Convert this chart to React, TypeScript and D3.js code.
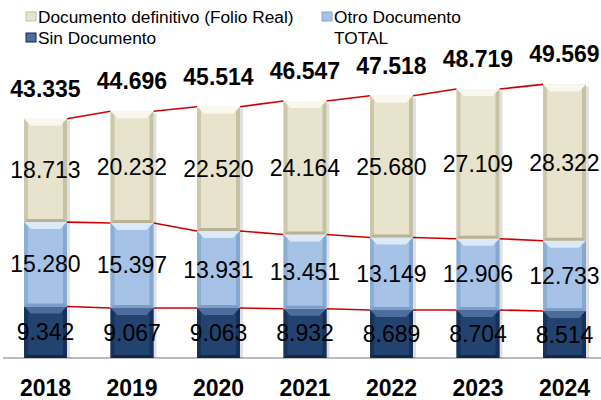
import React from "react";
import * as d3 from "d3";

const years = ["2018", "2019", "2020", "2021", "2022", "2023", "2024"];
const sinDocumento = [9342, 9067, 9063, 8932, 8689, 8704, 8514];
const otroDocumento = [15280, 15397, 13931, 13451, 13149, 12906, 12733];
const folioReal = [18713, 20232, 22520, 24164, 25680, 27109, 28322];
const totals = [43335, 44696, 45514, 46547, 47518, 48719, 49569];

const fmt = (v: number) => d3.format(",")(v).replace(/,/g, ".");

const series = [
  { name: "Sin Documento", values: sinDocumento, main: "#22436f", top: "#4a6d9c", side: "#163058", bottom: "#10264a" },
  { name: "Otro Documento", values: otroDocumento, main: "#a6c3e7", top: "#dbe9f8", side: "#86a7d0", bottom: "#7d9dc6" },
  { name: "Documento definitivo (Folio Real)", values: folioReal, main: "#e7e3cd", top: "#f9f7ee", side: "#c7c1a4", bottom: "#b9b294" },
];

const W = 601;
const H = 400;
const font = "Liberation Sans, Arial, sans-serif";

const App = () => {
  const x = d3.scalePoint<string>().domain(years).range([45.5, 564.5]);
  const y = d3.scaleLinear().domain([0, 50000]).range([358, 82]);
  const bw = 43;
  const bev = 7;

  // cumulative stack
  const stacked = years.map((_, i) => {
    let acc = 0;
    return series.map((s) => {
      const y0 = acc;
      acc += s.values[i];
      return { y0, y1: acc };
    });
  });

  const lines = series.map((_, k) => {
    const segs: [number, number, number, number][] = [];
    for (let i = 0; i < years.length - 1; i++) {
      segs.push([
        (x(years[i]) as number) + bw / 2,
        y(stacked[i][k].y1),
        (x(years[i + 1]) as number) - bw / 2,
        y(stacked[i + 1][k].y1),
      ]);
    }
    return segs;
  });

  return (
    <svg width={W} height={H} style={{ position: "absolute", left: 0, top: 0, background: "#fff" }}>
      {/* legend */}
      <g fontFamily={font} fontSize={17.3} fill="#000">
        <rect x={26} y={12} width={10} height={9} fill={series[2].main} stroke={series[2].side} />
        <text x={38} y={23}>Documento definitivo (Folio Real)</text>
        <rect x={26} y={33} width={10} height={9} fill={series[0].top} stroke={series[0].bottom} />
        <text x={38} y={44}>Sin Documento</text>
        <rect x={322} y={12} width={10} height={9} fill={series[1].main} stroke={series[1].side} />
        <text x={334} y={23}>Otro Documento</text>
        <text x={334} y={44}>TOTAL</text>
      </g>

      {/* axis line */}
      <line x1={3} x2={W} y1={y(0)} y2={y(0)} stroke="#a6a6a6" strokeWidth={1.5} />

      {/* red connector lines */}
      {lines.map((segs, k) =>
        segs.map((s, i) => (
          <line key={`${k}-${i}`} x1={s[0]} y1={s[1]} x2={s[2]} y2={s[3]} stroke="#d00000" strokeWidth={1.6} />
        ))
      )}

      {/* bars */}
      {years.map((yr, i) => {
        const cx = x(yr) as number;
        const x0 = cx - bw / 2;
        const x1 = cx + bw / 2;
        return (
          <g key={yr}>
            <rect x={x1} y={y(totals[i]) + 2} width={3} height={y(0) - y(totals[i]) - 2} fill="#000" opacity={0.12} />
            {series.map((s, k) => {
              const top = y(stacked[i][k].y1);
              const bot = y(stacked[i][k].y0);
              return (
                <g key={s.name}>
                  <rect x={x0} y={top} width={bw} height={bot - top} fill={s.main} />
                  <polygon points={`${x0},${top} ${x1},${top} ${x1 - bev},${top + bev} ${x0 + bev},${top + bev}`} fill={s.top} />
                  <polygon points={`${x0},${top} ${x0 + 4},${top + 4} ${x0 + 4},${bot - 3} ${x0},${bot}`} fill={s.side} opacity={0.8} />
                  <polygon points={`${x1},${top} ${x1 - 4},${top + 4} ${x1 - 4},${bot - 3} ${x1},${bot}`} fill={s.side} />
                  <polygon points={`${x0},${bot} ${x1},${bot} ${x1 - 3},${bot - 3} ${x0 + 3},${bot - 3}`} fill={s.bottom} />
                </g>
              );
            })}
          </g>
        );
      })}

      {/* segment labels */}
      <g fontFamily={font} fontSize={23} textAnchor="middle" fill="#000">
        {years.map((yr, i) =>
          series.map((s, k) => (
            <text key={`${yr}-${k}`} x={x(yr)} y={(y(stacked[i][k].y0) + y(stacked[i][k].y1)) / 2 + 8}>
              {fmt(s.values[i])}
            </text>
          ))
        )}
      </g>

      {/* totals, above each bar */}
      <g fontFamily={font} fontSize={23} fontWeight="bold" textAnchor="middle" fill="#000">
        {years.map((yr, i) => (
          <text key={yr} x={x(yr)} y={y(totals[i]) - 22}>
            {fmt(totals[i])}
          </text>
        ))}
      </g>

      {/* year labels */}
      <g fontFamily={font} fontSize={23} fontWeight="bold" textAnchor="middle" fill="#000">
        {years.map((yr) => (
          <text key={yr} x={x(yr)} y={396}>
            {yr}
          </text>
        ))}
      </g>
    </svg>
  );
};

export default App;
